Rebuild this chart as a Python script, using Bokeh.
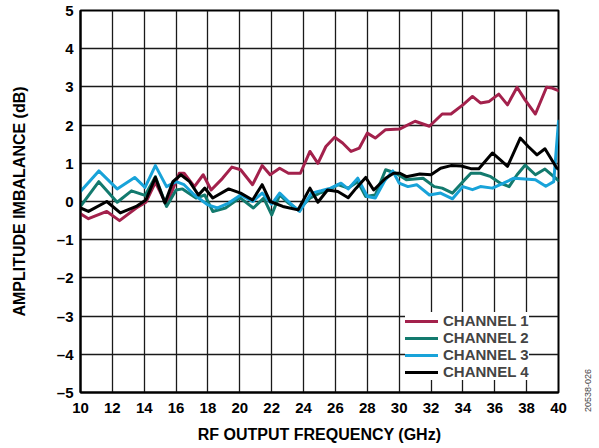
import math
from bokeh.plotting import figure
from bokeh.models import Legend, LegendItem, FixedTicker, Range1d, Label
from bokeh.embed import file_html
from bokeh.resources import INLINE

# ---- data ----
ch1_f = [10.0, 10.5, 11.65, 12.45, 13.5, 14.1, 14.7, 15.4, 16.2, 16.5, 17.15, 17.7, 18.2, 18.9,
         19.5, 20.05, 20.8, 21.4, 21.9, 22.5, 23.05, 23.8, 24.4, 24.9, 25.4, 25.95, 26.45, 26.98,
         27.5, 28.0, 28.5, 29.15, 30.05, 31.0, 31.9, 32.7, 33.25, 34.0, 34.6, 35.1, 35.65, 36.25,
         36.8, 37.4, 37.9, 38.55, 39.25, 39.6, 40.0]
ch1_v = [-0.32, -0.45, -0.26, -0.5, -0.17, -0.02, 0.5, -0.09, 0.74, 0.74, 0.39, 0.70, 0.30, 0.60,
         0.90, 0.83, 0.44, 0.94, 0.70, 0.87, 0.74, 0.74, 1.31, 1.00, 1.44, 1.68, 1.53, 1.31,
         1.40, 1.79, 1.66, 1.88, 1.90, 2.10, 1.97, 2.29, 2.29, 2.53, 2.75, 2.58, 2.62, 2.81,
         2.53, 2.99, 2.66, 2.29, 2.99, 2.97, 2.90]

ch2_f = [10.0, 11.15, 12.3, 13.2, 14.05, 14.7, 15.4, 16.0, 16.4, 17.25, 17.8, 18.3, 19.1, 20.0,
         20.85, 21.5, 22.0, 22.5, 23.05, 23.65, 24.4, 25.0, 25.6, 26.15, 26.8, 27.4, 27.9, 28.5,
         29.15, 29.8, 30.45, 31.5, 32.2, 32.7, 33.35, 34.0, 34.5, 35.1, 35.75, 36.35, 36.9, 37.4,
         37.9, 38.55, 39.15, 40.0]
ch2_v = [-0.13, 0.52, -0.02, 0.28, 0.16, 0.65, -0.13, 0.30, 0.33, 0.09, 0.17, -0.26, -0.17, 0.10,
         -0.17, 0.09, -0.35, 0.17, -0.04, -0.22, 0.09, 0.22, 0.30, 0.44, 0.35, 0.52, 0.13, 0.17,
         0.83, 0.74, 0.57, 0.61, 0.39, 0.35, 0.22, 0.52, 0.74, 0.74, 0.65, 0.48, 0.39, 0.70,
         0.95, 0.70, 0.85, 0.55]

ch3_f = [10.0, 11.15, 12.3, 13.4, 14.05, 14.7, 15.4, 16.0, 16.5, 17.15, 18.0, 18.6, 19.3, 20.05,
         20.8, 21.4, 22.0, 22.5, 23.15, 23.75, 24.5, 25.1, 25.7, 26.35, 26.8, 27.4, 28.0, 28.5,
         29.1, 29.6, 30.0, 30.55, 31.1, 31.9, 32.6, 33.35, 34.0, 34.6, 35.1, 35.85, 36.55, 37.2,
         37.9, 38.55, 39.2, 39.7, 40.0]
ch3_v = [0.26, 0.80, 0.33, 0.63, 0.37, 0.94, 0.39, 0.52, 0.44, 0.17, -0.09, -0.17, -0.04, 0.17,
         0.00, 0.22, -0.07, 0.22, -0.04, -0.26, 0.22, 0.28, 0.35, 0.48, 0.33, 0.61, 0.13, 0.09,
         0.55, 0.80, 0.48, 0.39, 0.44, 0.17, 0.22, 0.07, 0.39, 0.31, 0.39, 0.35, 0.48, 0.61,
         0.59, 0.57, 0.40, 0.52, 2.10]

ch4_f = [10.0, 10.5, 11.65, 12.5, 13.5, 14.1, 14.7, 15.3, 15.8, 16.3, 16.85, 17.4, 17.8, 18.3,
         19.3, 20.05, 20.8, 21.4, 21.9, 22.7, 23.65, 24.4, 24.9, 25.5, 26.15, 26.8, 27.3, 27.9,
         28.4, 29.15, 29.65, 30.05, 30.45, 31.3, 32.0, 32.6, 33.25, 33.9, 34.5, 35.0, 35.85, 36.35,
         36.8, 37.6, 38.1, 38.65, 39.15, 39.9, 40.0]
ch4_v = [-0.17, -0.26, 0.00, -0.30, -0.13, 0.04, 0.63, -0.04, 0.52, 0.70, 0.52, 0.17, 0.35, 0.09,
         0.33, 0.22, 0.04, 0.44, 0.00, -0.13, -0.22, 0.35, -0.02, 0.30, 0.26, 0.10, 0.35, 0.63,
         0.30, 0.61, 0.74, 0.74, 0.65, 0.72, 0.70, 0.87, 0.94, 0.93, 0.86, 0.86, 1.27, 1.09,
         0.92, 1.66, 1.44, 1.22, 1.38, 0.87, 0.85]

x_ticks = list(range(10, 41, 2))
y_ticks = list(range(-5, 6))
y_tick_labels = {v: (("\u2013" + str(-v)) if v < 0 else str(v)) for v in y_ticks}
legend_labels = ["CHANNEL 1", "CHANNEL 2", "CHANNEL 3", "CHANNEL 4"]
colors = ["#A3214C", "#137A6E", "#18A3D9", "#000000"]
figure_id = "20538-026"

FONT = "Liberation Sans"

p = figure(frame_width=478, frame_height=382, output_backend="svg", toolbar_location=None,
           x_range=Range1d(10, 40), y_range=Range1d(-5, 5),
           min_border_left=80, min_border_top=10, min_border_right=38, min_border_bottom=44,
           background_fill_color="white", border_fill_color="white")

p.outline_line_color = "black"
p.outline_line_width = 2

for ax in (p.xaxis[0], p.yaxis[0]):
    ax.axis_line_width = 2
    ax.axis_line_color = "black"
    ax.major_tick_in = 0
    ax.major_tick_out = 0
    ax.minor_tick_in = 0
    ax.minor_tick_out = 0
    ax.major_label_text_font = FONT
    ax.major_label_text_font_style = "bold"
    ax.major_label_text_font_size = "15px"
    ax.major_label_text_color = "black"
    ax.axis_label_text_font = FONT
    ax.axis_label_text_font_style = "bold"
    ax.axis_label_text_font_size = "16px"
    ax.axis_label_text_color = "black"

p.xaxis.ticker = FixedTicker(ticks=x_ticks)
p.yaxis.ticker = FixedTicker(ticks=y_ticks)
p.yaxis.major_label_overrides = y_tick_labels
p.xaxis.axis_label = "RF OUTPUT FREQUENCY (GHz)"
p.yaxis.axis_label = "AMPLITUDE IMBALANCE (dB)"
p.xaxis.major_label_standoff = 10
p.xaxis.axis_label_standoff = 10
p.yaxis.major_label_standoff = 7
p.yaxis.axis_label_standoff = 26

p.xgrid.ticker = FixedTicker(ticks=x_ticks)
p.ygrid.ticker = FixedTicker(ticks=y_ticks)
for g in (p.xgrid[0], p.ygrid[0]):
    g.grid_line_color = "#1a1a1a"
    g.grid_line_width = 1.3

series = [(ch1_f, ch1_v), (ch2_f, ch2_v), (ch3_f, ch3_v), (ch4_f, ch4_v)]
renderers = []
for (f, v), c in zip(series, colors):
    r = p.line(f, v, line_color=c, line_width=3, line_join="round", line_cap="round")
    renderers.append(r)

legend = Legend(items=[LegendItem(label=l, renderers=[r]) for l, r in zip(legend_labels, renderers)],
                location=(325, 12))
legend.background_fill_color = "white"
legend.background_fill_alpha = 1.0
legend.border_line_color = None
legend.label_text_font = FONT
legend.label_text_font_style = "bold"
legend.label_text_font_size = "15px"
legend.glyph_width = 33
legend.glyph_height = 12
legend.label_height = 12
legend.label_standoff = 5
legend.spacing = 0
legend.padding = 5
legend.margin = 0
p.add_layout(legend)

# figure id, vertical, in the right side panel near the bottom
p.add_layout(Label(x=29, y=2, x_units="screen", y_units="screen", text=figure_id,
                   angle=math.pi / 2, text_align="center", text_baseline="middle",
                   text_font=FONT, text_font_size="9px", text_color="#444444"), "right")

open("out.html", "w").write(file_html(p, INLINE))
